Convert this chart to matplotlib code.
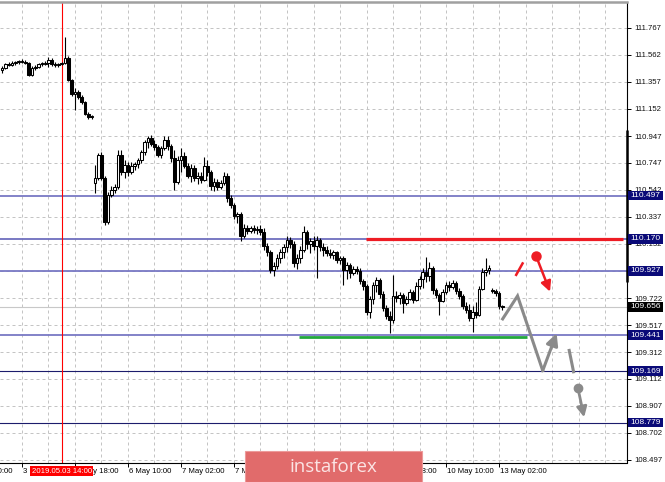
import matplotlib
matplotlib.use("Agg")
import matplotlib.pyplot as plt
from matplotlib.patches import Rectangle, FancyArrowPatch

# ---------------- data (H1 bars, x = bar offset from 3 May 02:00) ----------------
bar_pos = list(range(-6, 146))

opens = [
    111.447, 111.462, 111.492, 111.485, 111.500, 111.507, 111.515, 111.507, 111.500, 111.409,
    111.462, 111.469, 111.492, 111.492, 111.500, 111.523, 111.492, 111.485, 111.492, 111.500,
    111.538, 111.371, 111.266, 111.281, 111.243, 111.205, 111.114, 111.092, 110.592, 110.630,
    110.804, 110.630, 110.297, 110.501, 110.539, 110.562, 110.804, 110.675, 110.728, 110.675,
    110.721, 110.736, 110.766, 110.827, 110.902, 110.933, 110.887, 110.865, 110.804, 110.857,
    110.918, 110.872, 110.781, 110.600, 110.766, 110.797, 110.721, 110.645, 110.706, 110.630,
    110.645, 110.615, 110.721, 110.675, 110.570, 110.600, 110.562, 110.592, 110.645, 110.479,
    110.426, 110.343, 110.358, 110.191, 110.252, 110.229, 110.252, 110.237, 110.244, 110.222,
    110.116, 110.070, 109.934, 109.965, 110.025, 110.070, 110.108, 110.161, 110.131, 109.987,
    110.025, 110.085, 110.222, 110.131, 110.154, 110.116, 110.161, 110.108, 110.085, 110.063,
    110.048, 110.070, 110.010, 110.025, 109.934, 109.972, 109.912, 109.942, 109.927, 109.851,
    109.813, 109.616, 109.715, 109.821, 109.858, 109.753, 109.647, 109.586, 109.556, 109.738,
    109.722, 109.745, 109.685, 109.715, 109.768, 109.707, 109.813, 109.866, 109.919, 109.889,
    109.949, 109.783, 109.745, 109.700, 109.768, 109.821, 109.806, 109.836, 109.775, 109.738,
    109.662, 109.631, 109.571, 109.616, 109.594, 109.790, 109.919, 109.934, 109.783, 109.775,
    109.760, 109.662,
]
highs = [
    111.477, 111.500, 111.507, 111.515, 111.515, 111.523, 111.530, 111.523, 111.507, 111.477,
    111.485, 111.500, 111.507, 111.515, 111.545, 111.538, 111.507, 111.500, 111.507, 111.697,
    111.553, 111.379, 111.311, 111.296, 111.258, 111.212, 111.129, 111.107, 110.728, 110.819,
    110.827, 110.645, 110.524, 110.570, 110.585, 110.842, 110.842, 110.766, 110.751, 110.751,
    110.751, 110.781, 110.842, 110.918, 110.948, 110.955, 110.918, 110.880, 110.872, 110.948,
    110.948, 110.887, 110.842, 110.797, 110.857, 110.827, 110.744, 110.736, 110.728, 110.675,
    110.675, 110.789, 110.766, 110.691, 110.630, 110.622, 110.615, 110.675, 110.668, 110.501,
    110.441, 110.373, 110.373, 110.282, 110.275, 110.267, 110.275, 110.267, 110.275, 110.252,
    110.138, 110.085, 109.995, 110.055, 110.093, 110.131, 110.191, 110.184, 110.154, 110.055,
    110.116, 110.267, 110.237, 110.176, 110.191, 110.191, 110.176, 110.138, 110.116, 110.093,
    110.085, 110.078, 110.040, 110.040, 109.995, 109.987, 109.965, 109.965, 109.949, 109.866,
    109.828, 109.738, 109.843, 109.881, 109.874, 109.775, 109.669, 109.624, 109.896, 109.775,
    109.768, 109.760, 109.738, 109.790, 109.783, 109.843, 109.889, 109.949, 110.033, 109.995,
    109.965, 109.798, 109.760, 109.790, 109.843, 109.851, 109.858, 109.851, 109.798, 109.753,
    109.692, 109.677, 109.662, 109.692, 109.813, 109.949, 110.025, 109.972, 109.798, 109.790,
    109.775, 109.669,
]
lows = [
    111.424, 111.454, 111.477, 111.477, 111.485, 111.492, 111.500, 111.492, 111.401, 111.401,
    111.447, 111.462, 111.477, 111.485, 111.469, 111.477, 111.469, 111.469, 111.485, 111.492,
    111.363, 111.250, 111.144, 111.228, 111.190, 111.107, 111.076, 111.076, 110.517, 110.615,
    110.615, 110.275, 110.282, 110.486, 110.517, 110.547, 110.653, 110.630, 110.645, 110.660,
    110.691, 110.706, 110.744, 110.804, 110.857, 110.872, 110.842, 110.789, 110.781, 110.842,
    110.842, 110.751, 110.539, 110.585, 110.675, 110.706, 110.630, 110.600, 110.607, 110.585,
    110.592, 110.607, 110.645, 110.539, 110.532, 110.539, 110.547, 110.577, 110.449, 110.403,
    110.320, 110.290, 110.154, 110.176, 110.207, 110.214, 110.214, 110.207, 110.199, 110.085,
    110.040, 109.912, 109.889, 109.942, 109.987, 110.025, 110.070, 110.101, 109.957, 109.942,
    109.987, 110.070, 110.093, 110.063, 110.085, 109.874, 110.078, 110.040, 110.040, 110.025,
    110.017, 109.987, 109.980, 109.821, 109.866, 109.874, 109.896, 109.904, 109.828, 109.783,
    109.594, 109.571, 109.677, 109.768, 109.722, 109.624, 109.563, 109.458, 109.533, 109.692,
    109.677, 109.609, 109.669, 109.707, 109.685, 109.700, 109.790, 109.798, 109.843, 109.851,
    109.753, 109.722, 109.594, 109.692, 109.753, 109.775, 109.790, 109.753, 109.715, 109.639,
    109.609, 109.548, 109.465, 109.571, 109.586, 109.783, 109.889, 109.904, 109.760, 109.738,
    109.639, 109.631,
]
closes = [
    111.462, 111.492, 111.485, 111.500, 111.507, 111.515, 111.507, 111.500, 111.409, 111.462,
    111.469, 111.492, 111.492, 111.500, 111.523, 111.492, 111.485, 111.492, 111.500, 111.538,
    111.371, 111.266, 111.281, 111.243, 111.205, 111.114, 111.092, 111.099, 110.630, 110.804,
    110.630, 110.297, 110.501, 110.539, 110.562, 110.804, 110.675, 110.728, 110.675, 110.721,
    110.736, 110.766, 110.827, 110.902, 110.933, 110.887, 110.865, 110.804, 110.857, 110.918,
    110.872, 110.781, 110.600, 110.766, 110.797, 110.721, 110.645, 110.706, 110.630, 110.645,
    110.615, 110.721, 110.675, 110.570, 110.600, 110.562, 110.592, 110.645, 110.479, 110.426,
    110.343, 110.358, 110.191, 110.252, 110.229, 110.252, 110.237, 110.244, 110.222, 110.116,
    110.070, 109.934, 109.965, 110.025, 110.070, 110.108, 110.161, 110.131, 109.987, 110.025,
    110.085, 110.222, 110.131, 110.154, 110.116, 110.161, 110.108, 110.085, 110.063, 110.048,
    110.070, 110.010, 110.025, 109.934, 109.972, 109.912, 109.942, 109.927, 109.851, 109.813,
    109.616, 109.715, 109.821, 109.858, 109.753, 109.647, 109.586, 109.556, 109.738, 109.722,
    109.745, 109.685, 109.715, 109.768, 109.707, 109.813, 109.866, 109.919, 109.889, 109.949,
    109.783, 109.745, 109.700, 109.768, 109.821, 109.806, 109.836, 109.775, 109.738, 109.662,
    109.631, 109.571, 109.616, 109.594, 109.790, 109.919, 109.934, 109.949, 109.775, 109.760,
    109.662, 109.656,
]

time_tick_pos = [-16, 0, 16, 32, 48, 64, 80, 96, 112, 128, 144]
time_tick_labels = ["2 May 10:00", "3 May 02:00", "3 May 18:00", "6 May 10:00",
                    "7 May 02:00", "7 May 18:00", "8 May 10:00", "9 May 02:00",
                    "9 May 18:00", "10 May 10:00", "13 May 02:00"]
marker_bar = 12
marker_label = "2019.05.03 14:00"

price_ticks = [111.767, 111.562, 111.357, 111.152, 110.947, 110.747, 110.542, 110.337,
               110.132, 109.927, 109.722, 109.517, 109.312, 109.112, 108.907, 108.702, 108.497]

levels = [110.497, 110.170, 109.927, 109.441, 109.169, 108.779]
level_colors = ["#7878c4", "#6e6ebe", "#7878c4", "#7878c4", "#1c1c6c", "#1c1c6c"]
level_widths = [1.3, 1.3, 1.3, 1.3, 0.8, 0.8]
last_price = 109.656

resistance = (103.9, 181.3, 110.165)   # start bar, end bar, price
support = (83.7, 152.4, 109.428)

red_stroke = [(149.0, 109.889), (151.3, 109.992)]
red_dot = (155.2, 110.040)
red_arrow_end = (159.4, 109.770)
gray_zigzag = [(145.1, 109.564), (149.6, 109.738), (157.2, 109.173), (161.4, 109.455)]
gray_stroke = [(165.1, 109.337), (166.6, 109.153)]
gray_dot = (167.8, 109.044)
gray_arrow_end = (169.7, 108.820)

# ---------------- figure ----------------
W, H = 665, 482
fig = plt.figure(figsize=(W / 100, H / 100), dpi=100)
fig.patch.set_facecolor("white")
ax = fig.add_axes([0, (H - 462.5) / H, 627 / W, (462.5 - 2) / H])
ax.set_xlim(-6.64, 182.64)
ax.set_ylim(108.478, 111.961)
ax.set_facecolor("white")

FONT = "Liberation Sans"
FS = 5.6
BOX_FS = 6.0

ax.spines["left"].set_visible(False)
ax.spines["top"].set_color("#a0a0a0")
ax.spines["top"].set_linewidth(1.8)
ax.spines["right"].set_color("black")
ax.spines["right"].set_linewidth(0.8)
ax.spines["bottom"].set_color("black")
ax.spines["bottom"].set_linewidth(0.8)

# grid
grid_kw = dict(color="#c4c4c4", lw=0.72, ls=(0, (3, 3)), zorder=0.5)
for p in price_ticks:
    ax.axhline(p, **grid_kw)
for k in range(0, 183, 8):
    ax.axvline(k, **grid_kw)

# y axis on the right (a label hidden by a level box is left blank)
ax.yaxis.tick_right()
ax.set_yticks(price_ticks)
ax.set_yticklabels(["" if any(abs(p - lv) < 1e-6 for lv in levels) else f"{p:.3f}"
                    for p in price_ticks], fontsize=FS, family=FONT)
ax.tick_params(axis="y", direction="out", length=3, width=0.7, pad=2.5,
               colors="black", labelcolor="#111111")

# x ticks
vis_ticks = [t for t in time_tick_pos if t >= -6.64]
ax.set_xticks(vis_ticks)
ax.set_xticklabels([""] * len(vis_ticks))
ax.tick_params(axis="x", direction="out", length=3, width=0.7)
xtr = ax.get_xaxis_transform()
for pos, lab in zip(time_tick_pos, time_tick_labels):
    ax.text(pos + 0.25, -0.019, lab, transform=xtr, ha="left", va="center",
            fontsize=FS, family=FONT, color="black", clip_on=False, zorder=3)

# level lines
for lv, c, w in zip(levels, level_colors, level_widths):
    ax.axhline(lv, color=c, lw=w, zorder=1)
ax.axhline(last_price, color="#c8c8c8", lw=0.8, zorder=1)

# red vertical marker
ax.axvline(marker_bar, color="red", lw=0.8, zorder=1.2)

# candles
ax.vlines(bar_pos, lows, highs, color="black", lw=0.8, zorder=2)
bottoms = [min(o, c) for o, c in zip(opens, closes)]
heights = [max(abs(c - o), 0.004) for o, c in zip(opens, closes)]
faces = ["white" if c > o else "black" for o, c in zip(opens, closes)]
ax.bar(bar_pos, heights, bottom=bottoms, width=0.8, color=faces,
       edgecolor="black", linewidth=0.75, zorder=3)

# resistance / support segments
ax.plot([resistance[0], resistance[1]], [resistance[2]] * 2, color="#ee1c24", lw=2.3,
        solid_capstyle="butt", zorder=4)
ax.plot([support[0], support[1]], [support[2]] * 2, color="#22a83c", lw=2.0,
        solid_capstyle="butt", zorder=4)

# forecast drawings
RED = "#ee1c24"
GRAY = "#8a8a8a"
ax.plot([p[0] for p in red_stroke], [p[1] for p in red_stroke], color=RED, lw=1.8,
        solid_capstyle="butt", zorder=5)
ax.plot([red_dot[0]], [red_dot[1]], "o", color=RED, ms=6.5, zorder=6)
ax.add_patch(FancyArrowPatch(red_dot, red_arrow_end, arrowstyle="-|>,head_length=6,head_width=3",
                             mutation_scale=1, color=RED, lw=1.8, zorder=5, shrinkA=0, shrinkB=0))
ax.plot([p[0] for p in gray_zigzag[:3]], [p[1] for p in gray_zigzag[:3]], color=GRAY, lw=2.2,
        solid_joinstyle="miter", zorder=5)
ax.add_patch(FancyArrowPatch(gray_zigzag[2], gray_zigzag[3], arrowstyle="-|>,head_length=7,head_width=3.5",
                             mutation_scale=1, color=GRAY, lw=2.2, zorder=5, shrinkA=0, shrinkB=0))
ax.plot([p[0] for p in gray_stroke], [p[1] for p in gray_stroke], color=GRAY, lw=2.2,
        solid_capstyle="butt", zorder=5)
ax.plot([gray_dot[0]], [gray_dot[1]], "o", color=GRAY, ms=6.0, zorder=6)
ax.add_patch(FancyArrowPatch(gray_dot, gray_arrow_end, arrowstyle="-|>,head_length=6,head_width=3",
                             mutation_scale=1, color=GRAY, lw=2.0, zorder=5, shrinkA=0, shrinkB=0))

# thick segment on the price scale
ytr = ax.get_yaxis_transform()
ax.plot([0.9995, 0.9995], [110.993, 109.846], transform=ytr, color="black", lw=1.8,
        solid_capstyle="butt", clip_on=False, zorder=6)

# price labels in boxes
box_w = 35 / 627
box_h = 9.5 / 132.2
for lv in levels + [last_price]:
    fc = "black" if lv == last_price else "#0a0a78"
    ax.add_patch(Rectangle((1.0016, lv - box_h / 2), box_w, box_h, transform=ytr,
                           facecolor=fc, edgecolor="none", clip_on=False, zorder=7))
    ax.text(1.0016 + box_w / 2, lv, f"{lv:.3f}", transform=ytr, ha="center", va="center",
            fontsize=BOX_FS, family=FONT, color="white", clip_on=False, zorder=8)

# time marker label
ax.text(marker_bar, -0.019, marker_label, transform=xtr, ha="center", va="center",
        fontsize=FS, family=FONT, color="white", clip_on=False, zorder=6,
        bbox=dict(boxstyle="square,pad=0.2", facecolor="red", edgecolor="none"))

# watermark
fig.patches.append(Rectangle((245 / W, 0), (422 - 245) / W, 31 / H, transform=fig.transFigure,
                             facecolor="#e16b6b", edgecolor="#ec9a9a", lw=0.8, zorder=10))
fig.text(333 / W, 15 / H, "instaforex", ha="center", va="center", color="#fbe4e4",
         fontsize=13.5, family="Open Sans", zorder=11)

fig.savefig("out.png", dpi=100)
